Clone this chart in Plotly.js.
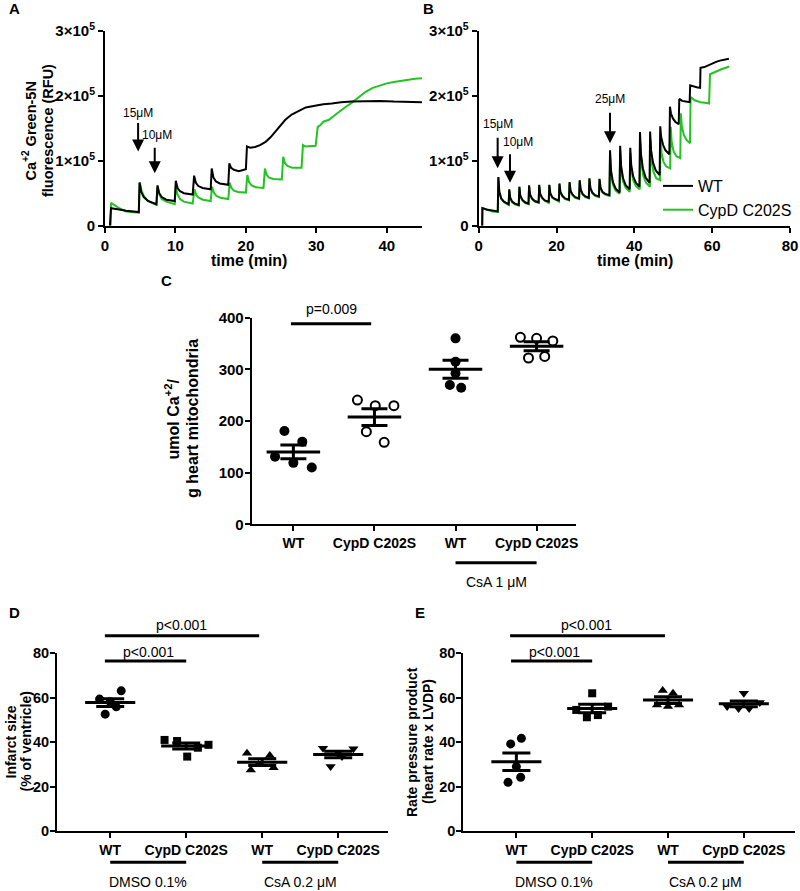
<!DOCTYPE html>
<html><head><meta charset="utf-8">
<script src="https://cdn.plot.ly/plotly-3.0.1.min.js"></script>
<style>body{margin:0;background:#fff}#chart{width:800px;height:891px}</style>
</head><body><div id="chart"></div>
<script>
const FONT = 'Liberation Sans, Arial, Helvetica, sans-serif';
const BLACK = '#000000';
const GREEN = '#22c322';

// ---------- Panel A : Ca2+ retention traces ----------
const aTimeWT = [0.7,0.85,2,3,4.8,
 4.9,5.15,5.5,6.1,7.3,
 7.45,7.7,8.05,8.7,9.9,
 10.05,10.3,10.65,11.2,12.45,
 12.65,12.9,13.25,13.85,15.0,
 15.15,15.4,15.75,16.3,17.5,
 17.65,17.9,18.3,19.0,20.0,
 20.15,20.6,21.3,22,22.8,23.5,24.2,25,25.6,26.5,27.5,28.5,30,31,32.2,33.5,35,37,39,41,43,45];
const aRfuWT = [0,27000,25000,23000,21000,
 66000,52000,44000,38000,33000,
 62000,50000,44000,40000,38000,
 69000,58000,53000,50000,48000,
 77000,66000,61000,58000,56000,
 88000,74000,68000,65000,63000,
 96000,89000,86000,84000,87000,
 122000,120000,121000,124000,129000,136000,145000,155000,163000,171000,177000,182000,185000,187000,188000,190000,191000,192000,192000,191000,191000,190000];
const aTimeCypD = [0.8,0.85,1.3,2,3,4.8,
 4.95,5.2,5.55,6.1,7.3,
 7.45,7.7,8.05,8.7,9.9,
 10.05,10.3,10.65,11.2,12.45,
 12.7,12.95,13.3,13.9,15.0,
 15.2,15.45,15.8,16.4,17.5,
 17.7,17.95,18.3,18.9,20.0,
 20.2,20.45,20.8,21.4,22.5,
 22.7,22.95,23.3,23.9,25.1,
 25.3,25.55,25.9,26.6,27.9,
 28.1,28.4,29,29.9,
 30.2,30.6,31,31.8,32.6,33.4,34.2,35,36,37,38,39,40,41,42,43,44,45];
const aRfuCypD = [0,35000,32000,27000,22000,20000,
 67000,53000,45000,38000,32000,
 60000,48000,41000,37000,33000,
 60000,48000,41000,37000,34000,
 56000,47000,43000,40000,38000,
 60000,51000,46000,43000,41000,
 66000,58000,54000,52000,51000,
 78000,67000,62000,59000,58000,
 88000,78000,74000,72000,71000,
 106000,96000,92000,89000,89000,
 124000,122000,122000,123000,
 152000,155000,160000,163000,170000,177000,183000,189000,198000,206000,212000,216000,219000,221000,223000,224000,226000,227000];

// ---------- Panel B ----------
const bTimeWT = [0.9,0.95,2,3.5,4.9,
 5.05,5.3,5.8,6.5,7.7,
 7.85,8.1,8.6,9.3,10.3,
 10.45,10.7,11.2,11.9,12.8,
 12.95,13.2,13.7,14.4,15.4,
 15.55,15.8,16.3,17.0,18.0,
 18.15,18.4,18.9,19.6,20.6,
 20.75,21.0,21.5,22.2,23.2,
 23.35,23.6,24.1,24.8,25.8,
 25.95,26.2,26.7,27.4,28.3,
 28.45,28.7,29.2,29.9,30.9,
 31.05,31.3,31.8,32.5,33.6,
 33.75,34.0,34.5,35.2,36.2,
 36.35,36.6,37.1,37.8,38.8,
 38.95,39.2,39.7,40.4,41.3,
 41.45,41.7,42.2,42.9,43.9,
 44.05,44.3,44.8,45.5,46.5,
 46.65,46.9,47.4,48.0,49.0,
 49.15,49.4,49.9,50.5,51.4,
 51.55,52.3,53.2,54.2,
 54.35,55.2,56.0,56.9,
 57.0,58,59,60,61,62,63,64.3];
const bRfuWT = [0,27000,25000,23000,22000,
 75000,52000,42000,37000,33000,
 56000,43000,37000,34000,32000,
 60000,46000,40000,36000,34000,
 62000,48000,42000,38000,36000,
 63000,49000,43000,39000,37000,
 63000,50000,44000,41000,39000,
 65000,52000,46000,42000,40000,
 67000,54000,48000,44000,42000,
 70000,56000,49000,45000,43000,
 73000,58000,51000,47000,45000,
 72000,59000,52000,49000,47000,
 116000,85000,67000,57000,51000,
 123000,92000,73000,62000,56000,
 120000,93000,76000,66000,60000,
 144000,110000,88000,74000,66000,
 145000,116000,97000,85000,78000,
 153000,136000,124000,116000,110000,
 183000,173000,165000,160000,156000,
 195000,192000,191000,190000,
 216000,214000,213000,212000,
 243000,244000,247000,250000,252000,254000,255000,257000];
const bTimeCypD = [0.9,0.95,2,3.5,4.9,
 5.05,5.3,5.8,6.5,7.7,
 7.85,8.1,8.6,9.3,10.3,
 10.45,10.7,11.2,11.9,12.8,
 12.95,13.2,13.7,14.4,15.4,
 15.55,15.8,16.3,17.0,18.0,
 18.15,18.4,18.9,19.6,20.6,
 20.75,21.0,21.5,22.2,23.2,
 23.35,23.6,24.1,24.8,25.8,
 25.95,26.2,26.7,27.4,28.3,
 28.45,28.7,29.2,29.9,30.9,
 31.05,31.3,31.8,32.5,33.6,
 33.75,34.0,34.5,35.2,36.2,
 36.35,36.6,37.1,37.8,38.8,
 38.95,39.2,39.7,40.4,41.4,
 41.55,41.8,42.3,43.0,44.0,
 44.15,44.4,44.9,45.6,46.6,
 46.75,47.0,47.5,48.2,49.2,
 49.35,49.6,50.1,50.8,51.8,
 51.95,52.2,52.7,53.4,54.3,
 54.45,55.5,57,58.2,59.2,
 59.45,60.5,61.5,62.5,63.5,64.4];
const bRfuCypD = [0,27000,25000,22000,21000,
 74000,51000,41000,36000,32000,
 55000,42000,36000,33000,31000,
 59000,45000,39000,35000,33000,
 61000,47000,41000,37000,35000,
 62000,48000,42000,38000,35000,
 62000,49000,43000,40000,37000,
 64000,51000,45000,41000,39000,
 66000,53000,47000,43000,41000,
 69000,55000,48000,44000,42000,
 72000,57000,50000,46000,44000,
 71000,58000,51000,48000,46000,
 110000,80000,63000,54000,49000,
 115000,86000,68000,58000,52000,
 112000,86000,70000,61000,56000,
 128000,97000,77000,66000,60000,
 132000,102000,83000,73000,70000,
 138000,112000,98000,91000,88000,
 152000,128000,114000,107000,104000,
 173000,153000,140000,132000,127000,
 198000,193000,190000,189000,188000,
 233000,236000,239000,241000,243000,245000];

// ---------- Panel C ----------
const cLabels = ['WT','CypD C202S','WT','CypD C202S'];
const cWT = [180.6,160,131,119,110];
const cCypD = [240.6,229.7,229.7,179.4,158.7];
const cWTCsA = [360,314.8,292.3,269.7,264.5];
const cCypDCsA = [362,360,355,322,325];
const cSpreadWT = [-0.11,0.11,-0.226,0,0.227];
const cSpreadCypD = [-0.21,0.01,0.24,-0.1,0.12];
const cSpreadWTCsA = [0,0,0,-0.07,0.07];
const cSpreadCypDCsA = [-0.2,0,0.2,-0.1,0.1];

// ---------- Panel D ----------
const dLabels = ['WT','CypD C202S','WT','CypD C202S'];
const dWTDmso = [59.4,58.2,63.1,55.9,52.6];
const dCypDDmso = [41,40.5,33.5,37.5,38.8];
const dWTCsA = [35,34,30,27.5,28.5];
const dCypDCsA = [37.2,35.5,37,33.5,29];
const dSpreadWTDmso = [-0.14,0,0.145,0.08,-0.066];
const dSpreadCypDDmso = [-0.285,-0.12,0.013,0.154,0.293];
const dSpreadWTCsA = [-0.2,0.1,-0.05,-0.15,0.15];
const dSpreadCypDCsA = [-0.2,0,0.2,0.05,-0.1];

// ---------- Panel E ----------
const eLabels = ['WT','CypD C202S','WT','CypD C202S'];
const eWTDmso = [39.2,41.7,21.9,24.2,29];
const eCypDDmso = [62,54.5,56,51.2,52.2];
const eWTCsA = [63.2,62,56.7,56,56.7];
const eCypDCsA = [62,56,55.2,55.2,57.8];
const eSpreadWTDmso = [-0.075,0.066,-0.11,0.057,0];
const eSpreadCypDDmso = [0,-0.21,0.21,-0.07,0.075];
const eSpreadWTCsA = [-0.07,0.066,-0.145,0,0.145];
const eSpreadCypDCsA = [0,-0.22,-0.07,0.07,0.21];

// ---------- helpers ----------
function meanOf(a){return a.reduce((s,v)=>s+v,0)/a.length;}
function semOf(a){const m=meanOf(a);const sd=Math.sqrt(a.reduce((s,v)=>s+(v-m)*(v-m),0)/(a.length-1));return sd/Math.sqrt(a.length);}
function groupTraces(xa, ya, idx, vals, spread, marker, cap){
  const m = meanOf(vals), s = semOf(vals);
  return [
    {type:'scatter', mode:'markers', xaxis:xa, yaxis:ya, x: spread.map(d=>idx+d), y: vals,
     marker: marker, showlegend:false, hoverinfo:'skip', cliponaxis:false},
    {type:'scatter', mode:'lines', xaxis:xa, yaxis:ya, x:[idx-0.33, idx+0.33], y:[m,m],
     line:{color:BLACK, width:3}, showlegend:false, hoverinfo:'skip'},
    {type:'scatter', mode:'markers', xaxis:xa, yaxis:ya, x:[idx], y:[m],
     marker:{size:1, opacity:0}, showlegend:false, hoverinfo:'skip',
     error_y:{type:'data', array:[s], visible:true, color:BLACK, thickness:3, width:cap}}
  ];
}
const mk = (symbol, size) => ({symbol: symbol, size: size, color: BLACK, line:{color:BLACK, width: symbol.indexOf('open')>=0 ? 2 : 0}});

const traces = [];
// A
traces.push({type:'scatter', mode:'lines', x:aTimeCypD, y:aRfuCypD, xaxis:'x', yaxis:'y', line:{color:GREEN, width:2}, showlegend:false, hoverinfo:'skip'});
traces.push({type:'scatter', mode:'lines', x:aTimeWT, y:aRfuWT, xaxis:'x', yaxis:'y', line:{color:BLACK, width:2}, showlegend:false, hoverinfo:'skip'});
// B
traces.push({type:'scatter', mode:'lines', name:'CypD C202S', legendgroup:'g2', legendrank:2, x:bTimeCypD, y:bRfuCypD, xaxis:'x2', yaxis:'y2', line:{color:GREEN, width:2}, hoverinfo:'skip'});
traces.push({type:'scatter', mode:'lines', name:'WT', legendgroup:'g1', legendrank:1, x:bTimeWT, y:bRfuWT, xaxis:'x2', yaxis:'y2', line:{color:BLACK, width:2}, hoverinfo:'skip'});
// C
traces.push(...groupTraces('x3','y3',1,cWT,cSpreadWT,mk('circle',10),13));
traces.push(...groupTraces('x3','y3',2,cCypD,cSpreadCypD,mk('circle-open',9),13));
traces.push(...groupTraces('x3','y3',3,cWTCsA,cSpreadWTCsA,mk('circle',10),13));
traces.push(...groupTraces('x3','y3',4,cCypDCsA,cSpreadCypDCsA,mk('circle-open',9),13));
// D
traces.push(...groupTraces('x4','y4',1,dWTDmso,dSpreadWTDmso,mk('circle',9),14));
traces.push(...groupTraces('x4','y4',2,dCypDDmso,dSpreadCypDDmso,mk('square',8),14));
traces.push(...groupTraces('x4','y4',3,dWTCsA,dSpreadWTCsA,mk('triangle-up',9),14));
traces.push(...groupTraces('x4','y4',4,dCypDCsA,dSpreadCypDCsA,mk('triangle-down',9),14));
// E
traces.push(...groupTraces('x5','y5',1,eWTDmso,eSpreadWTDmso,mk('circle',9),14));
traces.push(...groupTraces('x5','y5',2,eCypDDmso,eSpreadCypDDmso,mk('square',8),14));
traces.push(...groupTraces('x5','y5',3,eWTCsA,eSpreadWTCsA,mk('triangle-up',9),14));
traces.push(...groupTraces('x5','y5',4,eCypDCsA,eSpreadCypDCsA,mk('triangle-down',9),14));

// ---------- axes ----------
const numFont = {family:FONT, size:15, color:BLACK, weight:'bold'};
const numFontSm = {family:FONT, size:14.5, color:BLACK, weight:'bold'};
const catFont = {family:FONT, size:14, color:BLACK, weight:'bold'};
function ax(extra){
  return Object.assign({showline:true, linecolor:BLACK, linewidth:2, ticks:'outside', ticklen:5, tickwidth:2,
    tickcolor:BLACK, showgrid:false, zeroline:false, tickfont:numFont, fixedrange:true, automargin:false}, extra);
}
const W = 800, H = 891;
const px = v => v / W;
const py = v => 1 - v / H;

const rfuTicks = [0,100000,200000,300000];
const rfuText = ['0','1×10<sup>5</sup>','2×10<sup>5</sup>','3×10<sup>5</sup>'];

const layout = {
  width: W, height: H, margin:{l:0,r:0,t:0,b:0}, paper_bgcolor:'#fff', plot_bgcolor:'rgba(0,0,0,0)',
  font:{family:FONT, color:BLACK},
  showlegend:true,
  legend:{x:px(658), y:py(169), xanchor:'left', yanchor:'top', font:{family:FONT, size:16, color:BLACK},
          traceorder:'grouped', tracegroupgap:0, bgcolor:'rgba(0,0,0,0)'},
  xaxis: ax({domain:[px(105),px(422)], range:[0,45], tickvals:[0,10,20,30,40], anchor:'y'}),
  yaxis: ax({domain:[py(225.7),py(30.7)], range:[0,300000], tickvals:rfuTicks, ticktext:rfuText, anchor:'x'}),
  xaxis2: ax({domain:[px(478.7),px(790)], range:[0,80], tickvals:[0,20,40,60,80], anchor:'y2'}),
  yaxis2: ax({domain:[py(225.7),py(30.7)], range:[0,300000], tickvals:rfuTicks, ticktext:rfuText, anchor:'x2'}),
  xaxis3: ax({domain:[px(251.7),px(576)], range:[0.486,4.486], tickvals:[1,2,3,4], ticktext:cLabels, tickfont:catFont, anchor:'y3'}),
  yaxis3: ax({domain:[py(524.3),py(317.7)], range:[0,400], tickvals:[0,100,200,300,400], anchor:'x3', ticklabelstandoff:-2}),
  xaxis4: ax({domain:[px(57),px(388)], range:[0.30,4.655], tickvals:[1,2,3,4], ticktext:dLabels, tickfont:catFont, anchor:'y4'}),
  yaxis4: ax({domain:[py(831),py(653.3)], range:[0,80], tickvals:[0,20,40,60,80], anchor:'x4', tickfont:numFontSm, ticklabelstandoff:-2}),
  xaxis5: ax({domain:[px(463.3),px(795)], range:[0.30,4.675], tickvals:[1,2,3,4], ticktext:eLabels, tickfont:catFont, anchor:'y5'}),
  yaxis5: ax({domain:[py(831),py(653.3)], range:[0,80], tickvals:[0,20,40,60,80], anchor:'x5', tickfont:numFontSm, ticklabelstandoff:-2}),
  shapes: [], annotations: []
};

// axis titles (one annotation per line, to match the tight line spacing)
function title(x, y, text, size, angle){
  layout.annotations.push({xref:'paper', yref:'paper', x:px(x), y:py(y), text:text, showarrow:false,
    textangle: angle||0, xanchor:'center', yanchor:'middle', font:{family:FONT, size:size, color:BLACK, weight:'bold'}});
}
title(249, 260, 'time (min)', 16);
title(635, 260, 'time (min)', 16);
title(29.5, 131, 'Ca<sup>+2</sup> Green-5N', 14.5, -90);
title(48, 131, 'fluorescence (RFU)', 14.5, -90);
title(172.5, 419, 'umol Ca<sup>+2</sup>/', 16, -90);
title(192, 419, 'g heart mitochondria', 16, -90);
title(10.5, 742, 'Infarct size', 14, -90);
title(25.5, 742, '(% of ventricle)', 14, -90);
title(412, 742, 'Rate pressure product', 14, -90);
title(428, 742, '(heart rate x LVDP)', 14, -90);

const annFont = {family:FONT, size:14, color:BLACK};
function sigBar(xa, ya, x0, x1, y){
  layout.shapes.push({type:'line', xref:xa, yref:ya+' domain', x0:x0, x1:x1, y0:y, y1:y, line:{color:BLACK, width:3}});
}
function txt(xa, ya, x, y, text, size){
  layout.annotations.push({xref:xa, yref:ya, x:x, y:y, text:text, showarrow:false, xanchor:'center', yanchor:'middle',
    font:Object.assign({}, annFont, {size:size||14})});
}
// panel letters
const letterFont = {family:FONT, size:15, color:BLACK, weight:'bold'};
[['A',14,9],['B',428,9],['C',166,280],['D',14,612],['E',420,612]].forEach(l=>{
  layout.annotations.push({xref:'paper', yref:'paper', x:px(l[1]), y:py(l[2]), text:l[0], showarrow:false, font:letterFont, xanchor:'center', yanchor:'middle'});
});
// arrows marking the Ca2+ additions: arrow length, label height above the head, label shift
function arrow(xa, ya, x, y, len, text, lift, dx){
  layout.annotations.push({xref:xa, yref:ya, x:x, y:y, ax:0, ay:-len, text:' ', showarrow:true, arrowhead:2, arrowsize:1.2,
    arrowwidth:2, arrowcolor:BLACK, font:{family:FONT, size:2, color:BLACK}});
  layout.annotations.push({xref:xa, yref:ya, x:x, y:y, text:text, showarrow:false, xanchor:'center', yanchor:'middle',
    yshift:lift, xshift:dx, font:{family:FONT, size:12, color:BLACK}});
}
arrow('x','y',4.7,114000,31,'15μM',38.7,0);
arrow('x','y',7.06,80600,28,'10μM',38.3,2.7);
arrow('x2','y2',4.87,88300,33,'15μM',44.3,0);
arrow('x2','y2',8.04,66000,31,'10μM',41,8);
arrow('x2','y2',33.74,127000,33,'25μM',44.3,0);

// C significance and group bar
sigBar('x3','y3',0.97,1.96,0.971);
txt('x3','y3 domain',1.47,1.041,'p=0.009');
sigBar('x3','y3',3,4,-0.186);
txt('x3','y3 domain',3.5,-0.278,'CsA 1 μM');
// D
sigBar('x4','y4',0.93,2.96,1.099);
txt('x4','y4 domain',1.94,1.159,'p&lt;0.001');
sigBar('x4','y4',0.93,2.0,0.957);
txt('x4','y4 domain',1.5,1.009,'p&lt;0.001');
sigBar('x4','y4',1,2,-0.176);
sigBar('x4','y4',3,4,-0.176);
txt('x4','y4 domain',1.5,-0.285,'DMSO 0.1%');
txt('x4','y4 domain',3.5,-0.285,'CsA 0.2 μM');
// E
sigBar('x5','y5',0.917,2.96,1.099);
txt('x5','y5 domain',1.93,1.159,'p&lt;0.001');
sigBar('x5','y5',0.93,2.0,0.957);
txt('x5','y5 domain',1.5,1.009,'p&lt;0.001');
sigBar('x5','y5',1,2,-0.176);
sigBar('x5','y5',3,4,-0.176);
txt('x5','y5 domain',1.5,-0.285,'DMSO 0.1%');
txt('x5','y5 domain',3.5,-0.285,'CsA 0.2 μM');

Plotly.newPlot('chart', traces, layout, {displayModeBar:false, staticPlot:true});
</script></body></html>
